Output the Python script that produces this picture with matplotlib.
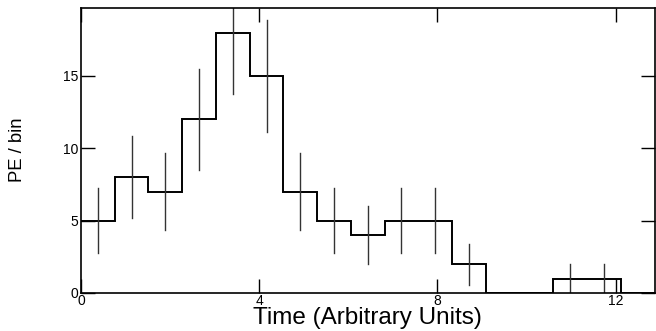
import numpy as np
import matplotlib
matplotlib.use("Agg")
import matplotlib.pyplot as plt

plt.rcParams['font.family'] = ['Liberation Sans', 'DejaVu Sans']

# data
x_min, x_max = 0.0, 12.87
n_bins = 17
counts = [5, 8, 7, 12, 18, 15, 7, 5, 4, 5, 5, 2, 0, 0, 1, 1, 0]
errors = [np.sqrt(c) for c in counts]
x_ticks = [0, 4, 8, 12]
y_ticks = [0, 5, 10, 15]
y_max = 19.7

edges = np.linspace(x_min, x_max, n_bins + 1)
centers = 0.5 * (edges[:-1] + edges[1:])

fig = plt.figure(figsize=(6.56, 3.31), dpi=100)
ax = fig.add_axes([81/656, 38/331, 573.5/656, 285/331])

ax.stairs(counts, edges, color='black', linewidth=1.4, baseline=None)
for xc, c, e in zip(centers, counts, errors):
    if c > 0:
        ax.plot([xc, xc], [c - e, c + e], color='#333333', linewidth=1.0, clip_on=True)

ax.set_xlim(x_min, x_max)
ax.set_ylim(0, y_max)
ax.set_xticks(x_ticks)
ax.set_yticks(y_ticks)
ax.tick_params(direction='in', length=10, width=1.0, top=True, right=True,
               labelsize=10, pad=2)
ax.tick_params(axis='x', pad=1)
for s in ax.spines.values():
    s.set_linewidth(1.2)

fig.text(0.5 * (81 + 654.5) / 656, 1 - 318 / 331, 'Time (Arbitrary Units)',
         fontsize=17.5, ha='center', va='center')
fig.text(17 / 656, 1 - 150 / 331, 'PE / bin', fontsize=13.3, rotation=90,
         ha='center', va='center')

fig.savefig('out.png', dpi=100)
